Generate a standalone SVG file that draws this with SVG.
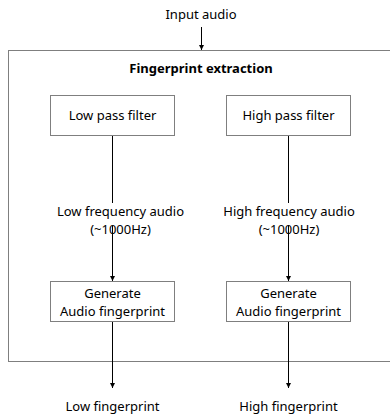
<svg xmlns="http://www.w3.org/2000/svg" width="390" height="419" viewBox="0 0 390 419">
  <style>
    text { font-family: "Noto Sans", "Liberation Sans", sans-serif; font-size: 13px; fill: #000; text-anchor: middle; }
    .box { fill: #fff; stroke: #7f7f7f; stroke-width: 1; }
    .frame { fill: none; stroke: #7f7f7f; stroke-width: 1; }
    .wire { fill: none; stroke: #000; stroke-width: 1; }
    .title { font-weight: bold; }
  </style>
  <defs>
    <marker id="arrow" viewBox="0 0 6 6" refX="5" refY="3" markerWidth="6" markerHeight="6" markerUnits="userSpaceOnUse" orient="auto">
      <path d="M0,0.5 L5,3 L0,5.5 z" fill="#000"/>
    </marker>
  </defs>
  <rect width="390" height="419" fill="#fff"/>

  <g id="extraction">
    <rect class="frame" x="8.5" y="50.5" width="390" height="311"/>
    <text class="title" x="201" y="73">Fingerprint extraction</text>
  </g>

  <g id="connectors">
    <line class="wire" x1="201.5" y1="27" x2="201.5" y2="50" marker-end="url(#arrow)"/>
    <line class="wire" x1="112.5" y1="136" x2="112.5" y2="203"/>
    <line class="wire" x1="112.5" y1="226" x2="112.5" y2="281" marker-end="url(#arrow)"/>
    <line class="wire" x1="288.5" y1="136" x2="288.5" y2="203"/>
    <line class="wire" x1="288.5" y1="226" x2="288.5" y2="281" marker-end="url(#arrow)"/>
    <line class="wire" x1="112.5" y1="322" x2="112.5" y2="388" marker-end="url(#arrow)"/>
    <line class="wire" x1="288.5" y1="322" x2="288.5" y2="388" marker-end="url(#arrow)"/>
  </g>

  <g id="input">
    <text x="201" y="19">Input audio</text>
  </g>

  <g id="lpf">
    <rect class="box" x="50.5" y="95.5" width="124" height="40"/>
    <text x="112.5" y="120">Low pass filter</text>
  </g>
  <g id="hpf">
    <rect class="box" x="226.5" y="95.5" width="124" height="40"/>
    <text x="288.5" y="120">High pass filter</text>
  </g>

  <g id="low-band">
    <text x="120.5" y="216">Low frequency audio</text>
    <text x="120.5" y="234">(~1000Hz)</text>
  </g>
  <g id="high-band">
    <text x="289" y="216">High frequency audio</text>
    <text x="289" y="234">(~1000Hz)</text>
  </g>

  <g id="gen-low">
    <rect class="box" x="50.5" y="281.5" width="124" height="40"/>
    <text x="112.5" y="298">Generate</text>
    <text x="112.5" y="316">Audio fingerprint</text>
  </g>
  <g id="gen-high">
    <rect class="box" x="226.5" y="281.5" width="124" height="40"/>
    <text x="288.5" y="298">Generate</text>
    <text x="288.5" y="316">Audio fingerprint</text>
  </g>

  <g id="out-low">
    <text x="112.5" y="411">Low fingerprint</text>
  </g>
  <g id="out-high">
    <text x="288.5" y="411">High fingerprint</text>
  </g>
</svg>
